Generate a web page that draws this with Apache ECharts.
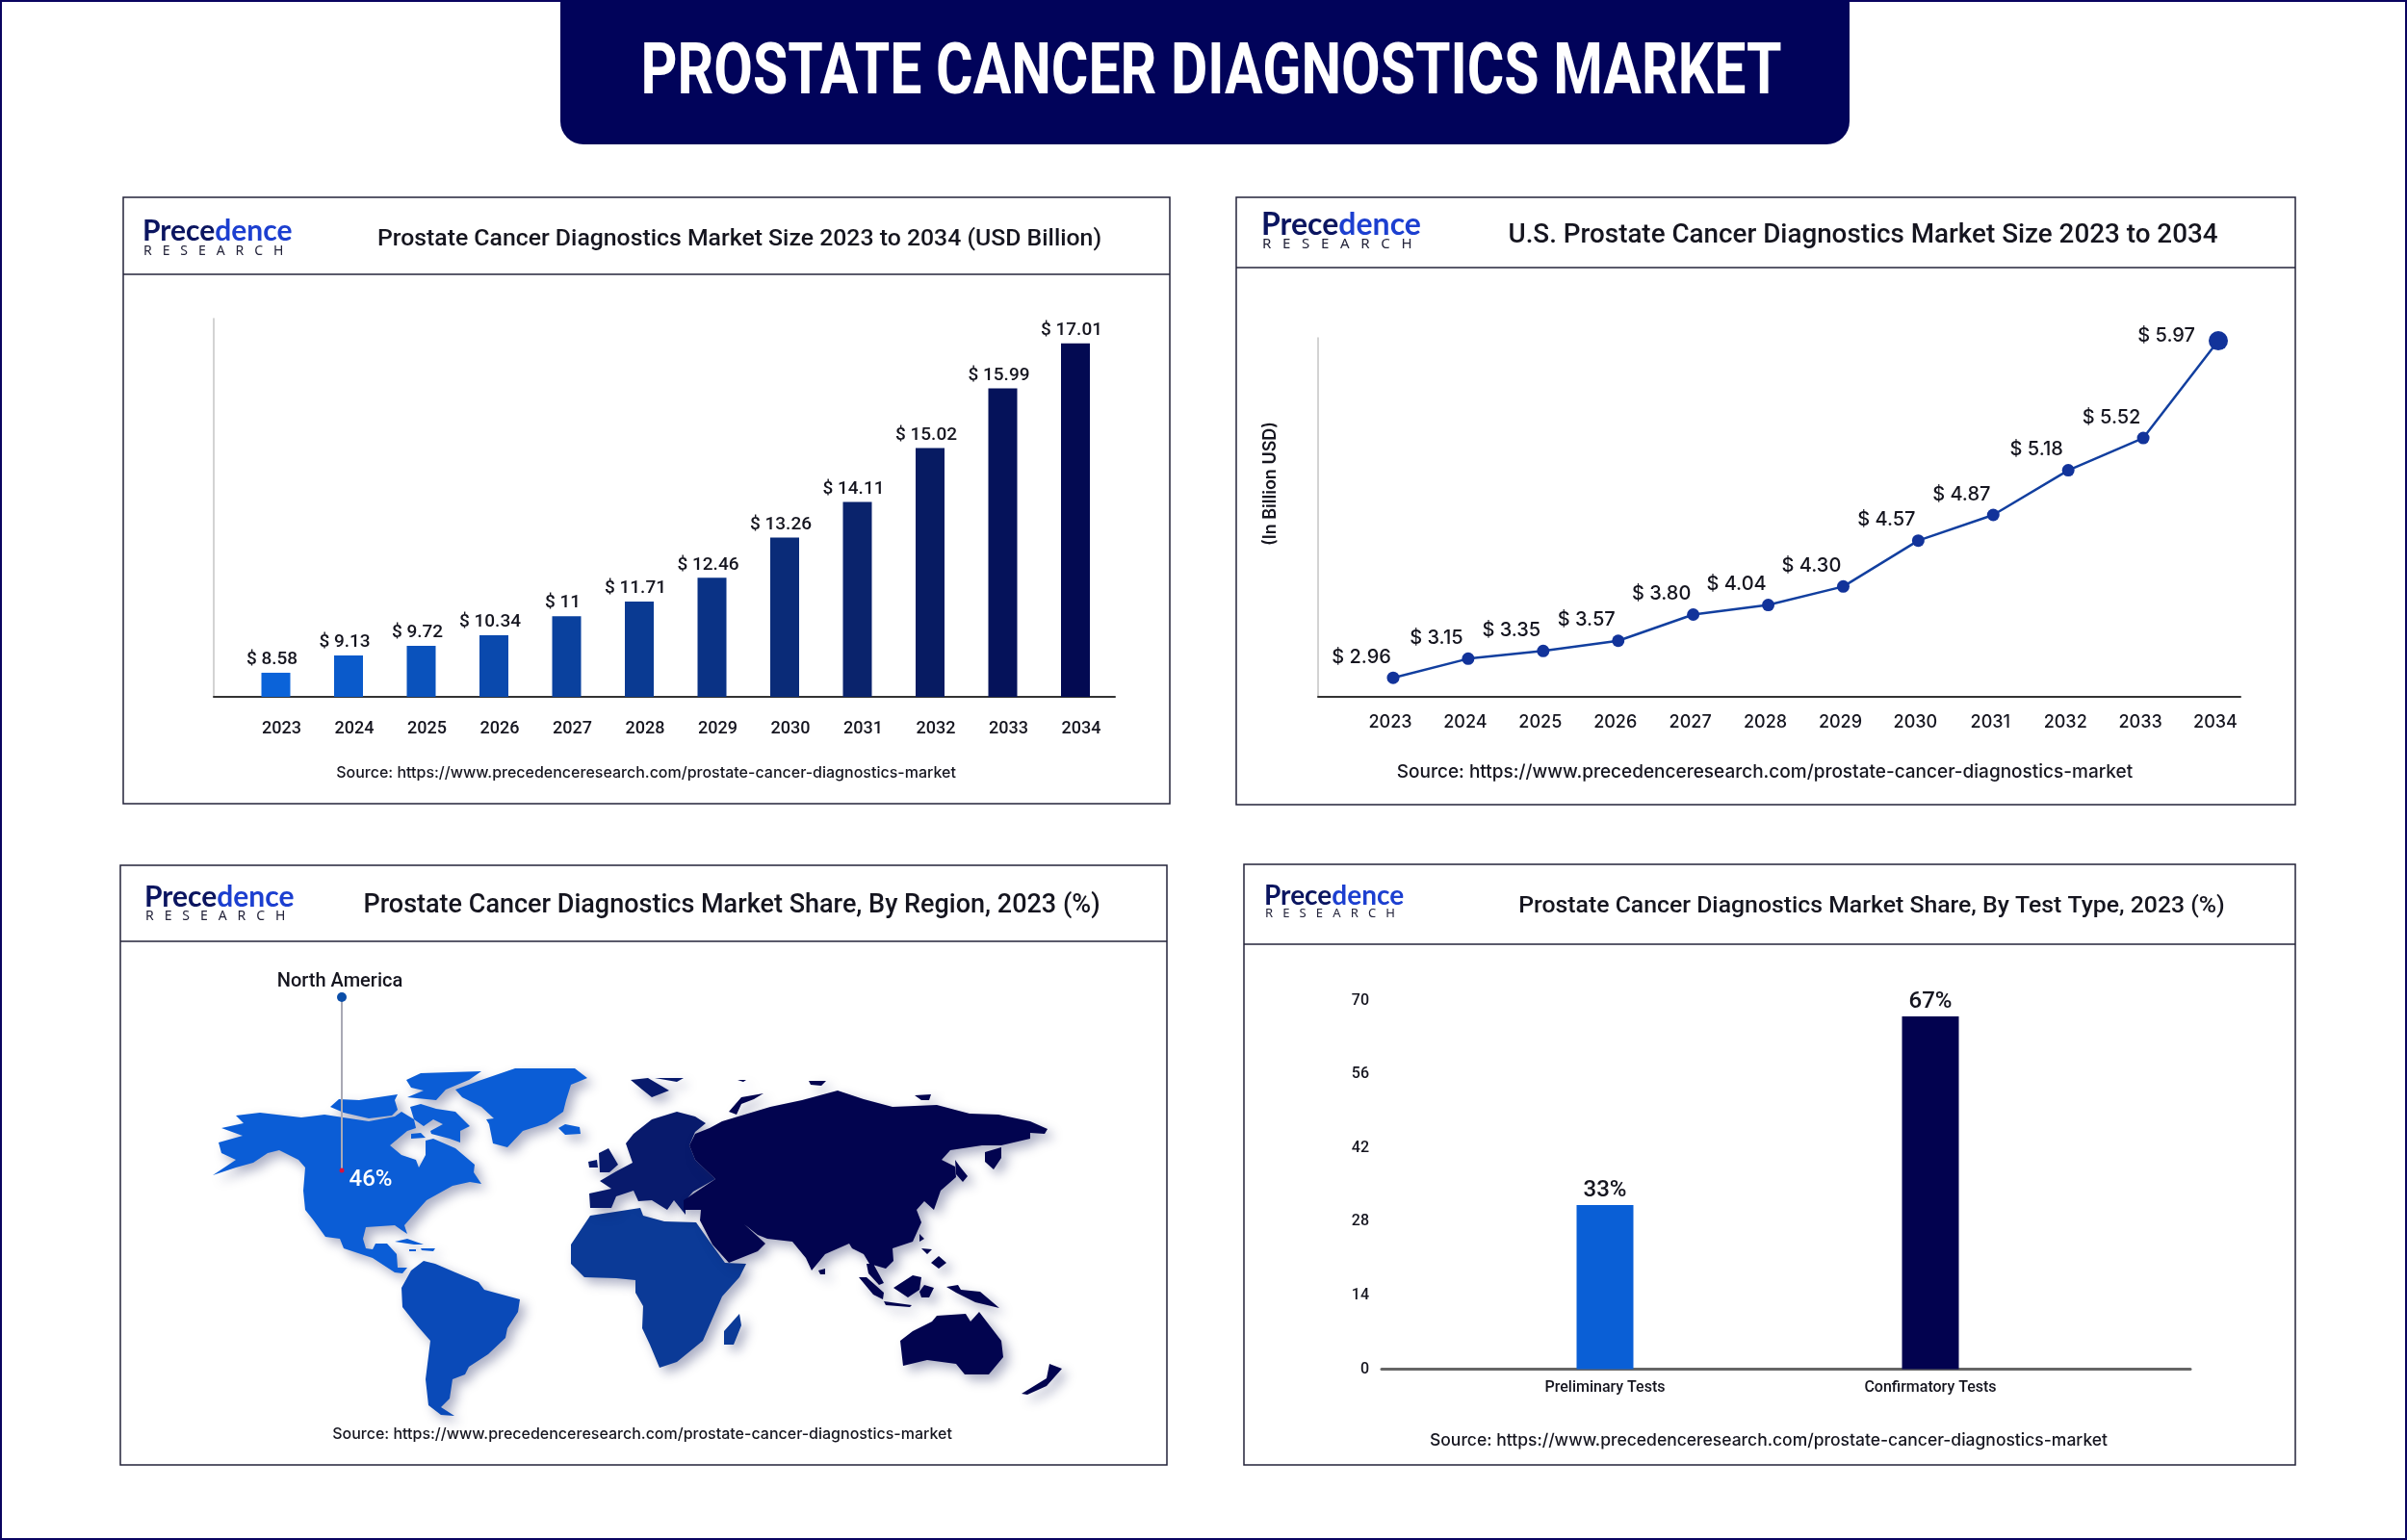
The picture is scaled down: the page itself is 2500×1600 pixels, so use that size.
<!DOCTYPE html>
<html>
<head>
<meta charset="utf-8">
<title>Prostate Cancer Diagnostics Market</title>
<script src="https://cdn.jsdelivr.net/npm/echarts@6/dist/echarts.min.js"></script>
<style>
  html, body { margin: 0; padding: 0; background: #fff; }
  #chart { width: 2500px; height: 1600px; }
</style>
</head>
<body>
<div id="chart"></div>
<script>
var years = ['2023','2024','2025','2026','2027','2028','2029','2030','2031','2032','2033','2034'];

// printed labels; the drawn heights in the original do not follow them linearly,
// so the heights are read off the picture separately
var sizeLabels = ['$ 8.58','$ 9.13','$ 9.72','$ 10.34','$ 11','$ 11.71','$ 12.46','$ 13.26','$ 14.11','$ 15.02','$ 15.99','$ 17.01'];
var sizeHeights = [1.16,1.99,2.45,2.96,3.88,4.58,5.73,7.67,9.38,11.97,14.84,17.01];

var usLabels = ['$ 2.96','$ 3.15','$ 3.35','$ 3.57','$ 3.80','$ 4.04','$ 4.30','$ 4.57','$ 4.87','$ 5.18','$ 5.52','$ 5.97'];
var usHeights = [0.32,0.64,0.77,0.94,1.38,1.54,1.85,2.62,3.05,3.80,4.34,5.97];

var testTypes = ['Preliminary Tests','Confirmatory Tests'];
var testLabels = ['33%','67%'];
var testHeights = [31.2,67];

var regionShareName = 'North America';
var regionShare = 46;

// map outlines, one ring per landmass
var northAmerica = [
  [[221,1221],[245,1205],[230,1198],[227,1187],[252,1180],[230,1172],[253,1167],[245,1159],[270,1156],[313,1161],[337,1158],[350,1160],[383,1165],[410,1160],[417,1155],[430,1163],[432,1172],[423,1175],[405,1190],[417,1200],[432,1205],[435,1213],[442,1200],[442,1185],[450,1183],[473,1193],[493,1210],[492,1218],[500,1230],[488,1228],[470,1232],[443,1247],[427,1265],[420,1273],[423,1282],[417,1278],[410,1273],[380,1275],[377,1287],[380,1297],[387,1298],[390,1292],[402,1292],[412,1303],[413,1317],[423,1317],[418,1323],[410,1322],[387,1307],[357,1297],[353,1287],[338,1285],[325,1267],[317,1257],[315,1237],[317,1213],[310,1205],[290,1195],[278,1198],[263,1208],[245,1213]],
  [[343,1150],[352,1142],[373,1143],[413,1137],[410,1143],[413,1153],[407,1159],[383,1162],[357,1156]],
  [[426,1150],[437,1147],[453,1152],[473,1155],[488,1170],[478,1175],[478,1187],[467,1183],[448,1178],[447,1175],[460,1168],[450,1163],[440,1170],[430,1163]],
  [[422,1122],[437,1115],[500,1113],[487,1122],[463,1132],[453,1143],[423,1140],[440,1133],[427,1130]],
  [[427,1178],[437,1177],[442,1182],[427,1183]],
  [[473,1132],[497,1123],[535,1110],[597,1110],[610,1120],[593,1127],[588,1143],[585,1155],[568,1167],[543,1175],[527,1192],[512,1188],[508,1168],[505,1163],[513,1162],[500,1150],[480,1140]],
  [[580,1172],[587,1168],[602,1171],[603,1178],[587,1179]],
  [[410,1290],[423,1287],[440,1293],[430,1293]],
  [[437,1297],[452,1297],[450,1300],[438,1299]],
  [[425,1298],[432,1298],[432,1300],[425,1300]]
];
var southAmerica = [
  [[417,1338],[427,1320],[440,1310],[452,1313],[473,1322],[497,1332],[503,1340],[540,1350],[538,1363],[527,1380],[525,1390],[507,1407],[487,1420],[483,1428],[470,1433],[467,1453],[458,1462],[472,1471],[458,1470],[445,1460],[442,1433],[447,1393],[433,1377],[418,1358]]
];
var africa = [
  [[593,1293],[613,1263],[665,1255],[668,1263],[690,1269],[723,1270],[737,1290],[753,1312],[775,1313],[768,1327],[750,1347],[743,1363],[730,1393],[703,1415],[685,1421],[675,1397],[667,1380],[668,1357],[660,1343],[660,1330],[640,1328],[607,1327],[593,1313]],
  [[752,1383],[768,1365],[770,1377],[762,1397],[752,1397]]
];
var europe = [
  [[612,1240],[635,1235],[623,1227],[640,1217],[657,1208],[650,1188],[658,1178],[677,1163],[703,1155],[722,1160],[733,1167],[722,1176],[716,1190],[722,1205],[743,1225],[720,1238],[712,1247],[712,1262],[700,1247],[693,1257],[677,1247],[663,1248],[658,1237],[640,1243],[635,1255],[613,1255]],
  [[622,1198],[632,1193],[642,1210],[633,1218],[623,1218]],
  [[611,1207],[620,1205],[621,1213],[612,1213]],
  [[655,1122],[673,1120],[695,1133],[677,1140],[667,1132]],
  [[680,1120],[710,1120],[703,1124]]
];
var asia = [
  [[716,1190],[722,1178],[737,1172],[750,1165],[800,1150],[833,1143],[870,1133],[897,1142],[927,1150],[973,1148],[1007,1157],[1037,1158],[1070,1165],[1088,1173],[1085,1178],[1070,1177],[1070,1183],[1040,1190],[1020,1190],[987,1195],[978,1205],[992,1212],[993,1223],[977,1237],[970,1257],[960,1248],[952,1257],[957,1270],[948,1290],[927,1297],[928,1310],[920,1318],[903,1313],[897,1303],[885,1297],[882,1292],[857,1303],[843,1320],[837,1307],[823,1290],[797,1287],[787,1283],[773,1272],[795,1292],[787,1300],[757,1312],[740,1293],[727,1268],[728,1257],[710,1257],[710,1247],[743,1225],[722,1205]],
  [[1023,1197],[1040,1192],[1040,1203],[1032,1215],[1023,1207]],
  [[757,1155],[770,1140],[793,1136],[783,1142],[770,1147],[765,1158]],
  [[766,1122],[775,1122],[772,1124]],
  [[840,1123],[858,1123],[853,1128],[842,1127]],
  [[950,1138],[967,1137],[965,1143],[957,1143]],
  [[992,1205],[997,1212],[1005,1222],[1000,1228],[993,1220]],
  [[955,1282],[960,1287],[955,1290]],
  [[957,1297],[968,1298],[963,1303]],
  [[967,1312],[975,1305],[983,1312],[975,1318]],
  [[850,1320],[857,1318],[857,1324],[852,1324]],
  [[900,1313],[907,1313],[918,1333],[913,1335],[902,1323]],
  [[892,1327],[900,1327],[918,1343],[917,1350],[907,1345]],
  [[918,1352],[947,1356],[945,1358],[920,1356]],
  [[928,1338],[948,1325],[957,1327],[955,1340],[943,1348]],
  [[955,1342],[960,1335],[970,1338],[965,1348],[957,1348]]
];
var oceania = [
  [[983,1337],[995,1335],[998,1340],[1018,1342],[1038,1359],[1013,1353],[993,1343]],
  [[935,1393],[948,1383],[968,1373],[973,1367],[1003,1365],[1008,1373],[1017,1363],[1040,1393],[1042,1410],[1027,1428],[1002,1428],[993,1417],[963,1413],[938,1419]],
  [[1061,1448],[1087,1432],[1090,1417],[1103,1422],[1087,1440],[1067,1449]]
];

var calloutDot = [355,1036];
var calloutEnd = [355,1216];
var calloutShare = [385,1226];

var sizeColors = ['#0b63d9','#0a5acb','#0a52bc','#0a49ad','#0a419e','#0a3a92','#0a3285','#0a2b78','#0a236c','#071b62','#05125a','#030a52'];

var regions = [
  { name: 'North America', rings: northAmerica, color: '#0b5dd6' },
  { name: 'South America', rings: southAmerica, color: '#0a4ab8' },
  { name: 'Africa', rings: africa, color: '#0b3a97' },
  { name: 'Europe', rings: europe, color: '#081a6c' },
  { name: 'Asia', rings: asia, color: '#02044f' },
  { name: 'Oceania', rings: oceania, color: '#02044f' }
];

var allX = [], allY = [];
regions.forEach(function (r) {
  r.rings.forEach(function (ring) {
    ring.forEach(function (p) { allX.push(p[0]); allY.push(p[1]); });
  });
});
var mapLeft = Math.min.apply(null, allX), mapRight = Math.max.apply(null, allX);
var mapTop = Math.min.apply(null, allY), mapBottom = Math.max.apply(null, allY);

echarts.registerMap('world', {
  type: 'FeatureCollection',
  features: regions.map(function (r) {
    return {
      type: 'Feature',
      properties: { name: r.name },
      geometry: {
        type: 'MultiPolygon',
        coordinates: r.rings.map(function (ring) { return [ring.concat([ring[0]])]; })
      }
    };
  })
});

var FONT = 'Roboto';
var NAVY = '#01035a';
var BANNER = 'PROSTATE CANCER DIAGNOSTICS MARKET';
var BANNER_FONT = 'bold 75px Roboto';
var SOURCE = 'Source: https://www.precedenceresearch.com/prostate-cancer-diagnostics-market';

// banner type is condensed in the original, so squeeze it to the same width
var measure = document.createElement('canvas').getContext('2d');
measure.font = BANNER_FONT;
var bannerScale = 1185 / measure.measureText(BANNER).width;

function panel(x, y, x2, y2, lineY) {
  return [
    { type: 'rect', shape: { x: x, y: y, width: x2 - x, height: y2 - y }, style: { fill: '#fff', stroke: '#23233a', lineWidth: 1.5 }, z: 0 },
    { type: 'line', shape: { x1: x, y1: lineY, x2: x2, y2: lineY }, style: { stroke: '#23233a', lineWidth: 1.5 }, z: 1 }
  ];
}

function heading(text, cx, cy, size) {
  return {
    text: text, left: cx, top: cy - size * 0.6, textAlign: 'center', padding: 0,
    textStyle: { fontFamily: FONT, fontWeight: 500, fontSize: size, color: '#15151f' }
  };
}

function sourceNote(cx, cy, size) {
  return {
    text: SOURCE, left: cx, top: cy - size * 0.6, textAlign: 'center', padding: 0,
    textStyle: { fontFamily: 'Inter', fontWeight: 500, fontSize: size, color: '#15151f' }
  };
}

function logo(x, y, y2, size, small) {
  return [
    {
      text: '{a|Prece}{b|dence}', left: x, top: y - size * 0.6, padding: 0,
      textStyle: {
        rich: {
          a: { fontFamily: 'Lato', fontSize: size, color: '#0b1560' },
          b: { fontFamily: 'Lato', fontSize: size, color: '#1c3fd0' }
        }
      }
    },
    {
      text: 'R   E   S   E   A   R   C   H', left: x + 1, top: y2 - small * 0.6, padding: 0,
      textStyle: { fontFamily: 'Noto Sans', fontWeight: 400, fontSize: small, color: '#23233a' }
    }
  ];
}

var titles = [
  heading('Prostate Cancer Diagnostics Market Size 2023 to 2034 (USD Billion)', 768, 251, 24.8),
  heading('U.S. Prostate Cancer Diagnostics Market Size 2023 to 2034', 1935, 248, 27.8),
  heading('Prostate Cancer Diagnostics Market Share, By Region, 2023 (%)', 760, 944, 27),
  heading('Prostate Cancer Diagnostics Market Share, By Test Type, 2023 (%)', 1944, 944, 24.8),
  sourceNote(671, 805, 16),
  sourceNote(1833, 804, 19),
  sourceNote(667, 1492, 16),
  sourceNote(1837, 1498, 17.5)
].concat(
  logo(148, 243, 262, 30, 14),
  logo(1310, 237, 255, 32, 15),
  logo(150, 935, 953, 30, 14),
  logo(1313, 934, 951, 28, 13)
);

var graphics = [
  { type: 'rect', shape: { x: 0, y: 0, width: 2500, height: 1600 }, style: { fill: '#fff', stroke: '#0a0460', lineWidth: 4 }, z: 0 },
  { type: 'rect', shape: { x: 582, y: -20, width: 1339, height: 170, r: 24 }, style: { fill: NAVY }, z: 2 },
  {
    type: 'text', x: 1258, y: 78, scaleX: bannerScale, z: 3,
    style: { text: BANNER, font: BANNER_FONT, fill: '#fff', align: 'center', verticalAlign: 'middle' }
  }
].concat(
  panel(128, 205, 1215, 835, 285),
  panel(1284, 205, 2384, 836, 278),
  panel(125, 899, 1212, 1522, 978),
  panel(1292, 898, 2384, 1522, 981)
);

function frameX(index) {
  return { gridIndex: index, type: 'value', min: 0, max: 1, axisLine: { show: true, onZero: false, lineStyle: { color: '#333', width: 2 } }, axisTick: { show: false }, axisLabel: { show: false }, splitLine: { show: false } };
}

var option = {
  animation: false,
  backgroundColor: '#fff',
  graphic: graphics,
  title: titles,
  grid: [
    { left: 248.75, top: 331, width: 906, height: 393 },
    { left: 222, top: 331, width: 936, height: 393 },
    { left: 1447, top: 351, width: 857, height: 373 },
    { left: 1369, top: 351, width: 958, height: 373 },
    { left: 1498, top: 1039.6, width: 676, height: 383 },
    { left: 1435, top: 1039.6, width: 840, height: 383 }
  ],
  xAxis: [
    {
      gridIndex: 0, type: 'category', data: years,
      axisLine: { show: false }, axisTick: { show: false },
      axisLabel: { margin: 24, padding: [0, 0, 0, 12], fontFamily: FONT, fontWeight: 500, fontSize: 18, color: '#15151f' }
    },
    frameX(1),
    {
      gridIndex: 2, type: 'category', data: years, boundaryGap: false,
      axisLine: { show: false }, axisTick: { show: false },
      axisLabel: { margin: 18, padding: [0, 6, 0, 0], fontFamily: 'Inter', fontWeight: 500, fontSize: 18, color: '#15151f' }
    },
    frameX(3),
    {
      gridIndex: 4, type: 'category', data: testTypes,
      axisLine: { show: false }, axisTick: { show: false },
      axisLabel: { margin: 11, fontFamily: FONT, fontWeight: 500, fontSize: 16, color: '#15151f' }
    },
    {
      gridIndex: 5, type: 'value', min: 0, max: 1,
      axisLine: { show: true, onZero: false, lineStyle: { color: '#666', width: 3 } },
      axisTick: { show: false }, axisLabel: { show: false }, splitLine: { show: false }
    }
  ],
  yAxis: [
    { gridIndex: 0, type: 'value', min: 0, max: 18.2, show: false },
    {
      gridIndex: 1, type: 'value', min: 0, max: 18.2,
      axisLine: { show: true, lineStyle: { color: '#c4c4c4', width: 1.5 } },
      axisTick: { show: false }, axisLabel: { show: false }, splitLine: { show: false }
    },
    { gridIndex: 2, type: 'value', min: 0, max: 6.02, show: false },
    {
      gridIndex: 3, type: 'value', min: 0, max: 6.02,
      name: '(In Billion USD)', nameLocation: 'middle', nameRotate: 90, nameGap: 40,
      nameTextStyle: { fontFamily: 'Inter', fontWeight: 600, fontSize: 18, color: '#15151f', padding: [0, 0, 0, 70] },
      axisLine: { show: true, lineStyle: { color: '#c4c4c4', width: 1.5 } },
      axisTick: { show: false }, axisLabel: { show: false }, splitLine: { show: false }
    },
    { gridIndex: 4, type: 'value', min: 0, max: 70, show: false },
    {
      gridIndex: 5, type: 'value', min: 0, max: 70, interval: 14,
      axisLine: { show: false }, axisTick: { show: false }, splitLine: { show: false },
      axisLabel: { margin: 13, fontFamily: FONT, fontWeight: 500, fontSize: 16, color: '#15151f' }
    }
  ],
  geo: {
    map: 'world', silent: true, roam: false,
    projection: { project: function (p) { return p; }, unproject: function (p) { return p; } },
    left: mapLeft, top: mapTop, width: mapRight - mapLeft, height: mapBottom - mapTop,
    itemStyle: { borderWidth: 0, shadowColor: 'rgba(20,30,90,0.35)', shadowBlur: 12, shadowOffsetX: 6, shadowOffsetY: 6 },
    regions: regions.map(function (r) {
      return { name: r.name, itemStyle: { areaColor: r.color } };
    })
  },
  series: [
    {
      type: 'bar', xAxisIndex: 0, yAxisIndex: 0, barWidth: 30,
      data: sizeHeights.map(function (h, i) {
        return { value: h, itemStyle: { color: sizeColors[i] } };
      }),
      label: {
        show: true, position: 'top', distance: 4, offset: [-4, 0],
        fontFamily: FONT, fontWeight: 500, fontSize: 19, color: '#15151f',
        formatter: function (p) { return sizeLabels[p.dataIndex]; }
      }
    },
    {
      type: 'line', xAxisIndex: 2, yAxisIndex: 2, symbol: 'circle', symbolSize: 13,
      lineStyle: { color: '#123f9f', width: 2.5 },
      itemStyle: { color: '#12339a' },
      data: usHeights.map(function (h, i) {
        if (i === usHeights.length - 1) {
          return { value: h, symbolSize: 20, label: { position: 'left', distance: 12, offset: [-2, -5] } };
        }
        return h;
      }),
      label: {
        show: true, position: 'top', distance: 8, offset: [-33, 3],
        fontFamily: 'Inter', fontWeight: 500, fontSize: 20, color: '#15151f',
        formatter: function (p) { return usLabels[p.dataIndex]; }
      }
    },
    {
      type: 'bar', xAxisIndex: 4, yAxisIndex: 4, barWidth: 59,
      data: [
        { value: testHeights[0], itemStyle: { color: '#0a5fd6' } },
        { value: testHeights[1], itemStyle: { color: '#02024f' } }
      ],
      label: {
        show: true, position: 'top', distance: 3,
        fontFamily: FONT, fontWeight: 500, fontSize: 24, color: '#15151f',
        formatter: function (p) { return testLabels[p.dataIndex]; }
      }
    },
    {
      type: 'lines', coordinateSystem: 'geo', geoIndex: 0, silent: true,
      lineStyle: { color: '#a9a9b5', width: 2, opacity: 1, curveness: 0 },
      data: [{ coords: [calloutDot, calloutEnd] }]
    },
    {
      type: 'scatter', coordinateSystem: 'geo', geoIndex: 0, silent: true,
      itemStyle: { opacity: 1 },
      data: [
        { value: calloutDot, symbolSize: 10, itemStyle: { color: '#0b4ea8' } },
        { value: calloutEnd, symbolSize: 5, itemStyle: { color: '#d6123c' } },
        {
          value: calloutShare, symbolSize: 0,
          label: { show: true, position: 'inside', formatter: regionShare + '%', fontFamily: FONT, fontWeight: 500, fontSize: 24, color: '#fff' }
        }
      ]
    },
    {
      type: 'scatter', coordinateSystem: 'geo', geoIndex: 0, silent: true, symbolSize: 0,
      itemStyle: { opacity: 1 },
      data: [{
        value: calloutDot,
        label: { show: true, position: 'top', distance: 6, offset: [-2, 0], formatter: regionShareName, fontFamily: FONT, fontWeight: 500, fontSize: 20, color: '#15151f' }
      }]
    }
  ]
};

var myChart = echarts.init(document.getElementById('chart'));
myChart.setOption(option);
</script>
</body>
</html>
